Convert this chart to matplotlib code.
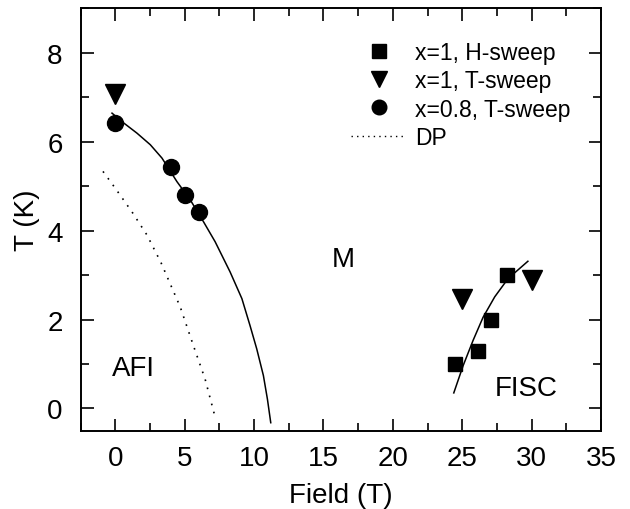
import matplotlib
matplotlib.use("Agg")
import matplotlib.pyplot as plt
from matplotlib.ticker import MultipleLocator
from matplotlib.lines import Line2D

plt.rcParams['font.family'] = ['Liberation Sans', 'DejaVu Sans']

# data
h_sweep_x1_field = [24.5, 26.1, 27.1, 28.2]
h_sweep_x1_temp = [1.0, 1.3, 2.0, 3.0]
t_sweep_x1_field = [0.0, 25.0, 30.0]
t_sweep_x1_temp = [7.06, 2.47, 2.88]
t_sweep_x08_field = [0.0, 4.0, 5.0, 6.0]
t_sweep_x08_temp = [6.42, 5.42, 4.81, 4.42]

# guide lines
afi_line_field = [-0.24, 0.6, 1.56, 2.52, 3.36, 4.44, 5.4, 6.35, 7.19,
                  8.27, 9.12, 9.71, 10.19, 10.67, 10.96, 11.2]
afi_line_temp = [6.64, 6.42, 6.19, 5.93, 5.63, 5.10, 4.69, 4.2, 3.75,
                 3.07, 2.47, 1.86, 1.34, 0.74, 0.21, -0.32]
dp_field = [-0.89, 0.0, 1.2, 2.28, 3.29, 4.68, 5.63, 6.47, 7.12]
dp_temp = [5.33, 4.95, 4.42, 3.9, 3.28, 2.28, 1.41, 0.66, -0.11]
fisc_line_field = [24.39, 25.06, 25.78, 26.5, 27.34, 28.3, 29.73]
fisc_line_temp = [0.35, 0.96, 1.53, 2.05, 2.51, 2.92, 3.31]

fig = plt.figure(figsize=(6.3, 5.1), dpi=100)
ax = fig.add_axes([0.128, 0.1535, 0.826, 0.8285])

ax.plot(afi_line_field, afi_line_temp, color='black', lw=1.1)
ax.plot(dp_field, dp_temp, color='black', lw=1.2, linestyle=(0, (1, 4)))
ax.plot(fisc_line_field, fisc_line_temp, color='black', lw=1.1)

ax.plot(h_sweep_x1_field, h_sweep_x1_temp, 's', color='black', ms=10.5, ls='none')
ax.plot(t_sweep_x1_field, t_sweep_x1_temp, 'v', color='black', ms=14, ls='none')
ax.plot(t_sweep_x08_field, t_sweep_x08_temp, 'o', color='black', ms=11.5, ls='none')

ax.text(16.4, 3.37, 'M', fontsize=20, ha='center', va='center')
ax.text(1.27, 0.92, 'AFI', fontsize=20, ha='center', va='center')
ax.text(29.6, 0.47, 'FISC', fontsize=20, ha='center', va='center')

handles = [
    Line2D([], [], marker='s', color='black', ls='none', ms=9.5),
    Line2D([], [], marker='v', color='black', ls='none', ms=12),
    Line2D([], [], marker='o', color='black', ls='none', ms=10.5),
    Line2D([], [], color='black', lw=1, linestyle=(0, (1, 3))),
]
labels = ['x=1, H-sweep', 'x=1, T-sweep', 'x=0.8, T-sweep', 'DP']
ax.legend(handles, labels, loc='upper left', bbox_to_anchor=(0.502, 0.943),
          frameon=False, fontsize=16.5, handlelength=2.4, handletextpad=0.4,
          labelspacing=0.22, borderaxespad=0)

ax.set_xlim(-2.5, 35)
ax.set_ylim(-0.5, 9)
ax.xaxis.set_major_locator(MultipleLocator(5))
ax.xaxis.set_minor_locator(MultipleLocator(2.5))
ax.yaxis.set_major_locator(MultipleLocator(2))
ax.yaxis.set_minor_locator(MultipleLocator(1))
ax.tick_params(which='both', direction='in', top=True, right=True,
               width=1.2, labelsize=20)
ax.tick_params(axis='x', which='major', pad=10)
ax.tick_params(axis='y', which='major', pad=13)
ax.tick_params(which='major', length=9)
ax.tick_params(which='minor', length=6)
for s in ax.spines.values():
    s.set_linewidth(1.4)

ax.set_xlabel('Field (T)', fontsize=20, labelpad=8)
ax.set_ylabel('T (K)', fontsize=20, labelpad=5)

fig.savefig('out.png', dpi=100)
